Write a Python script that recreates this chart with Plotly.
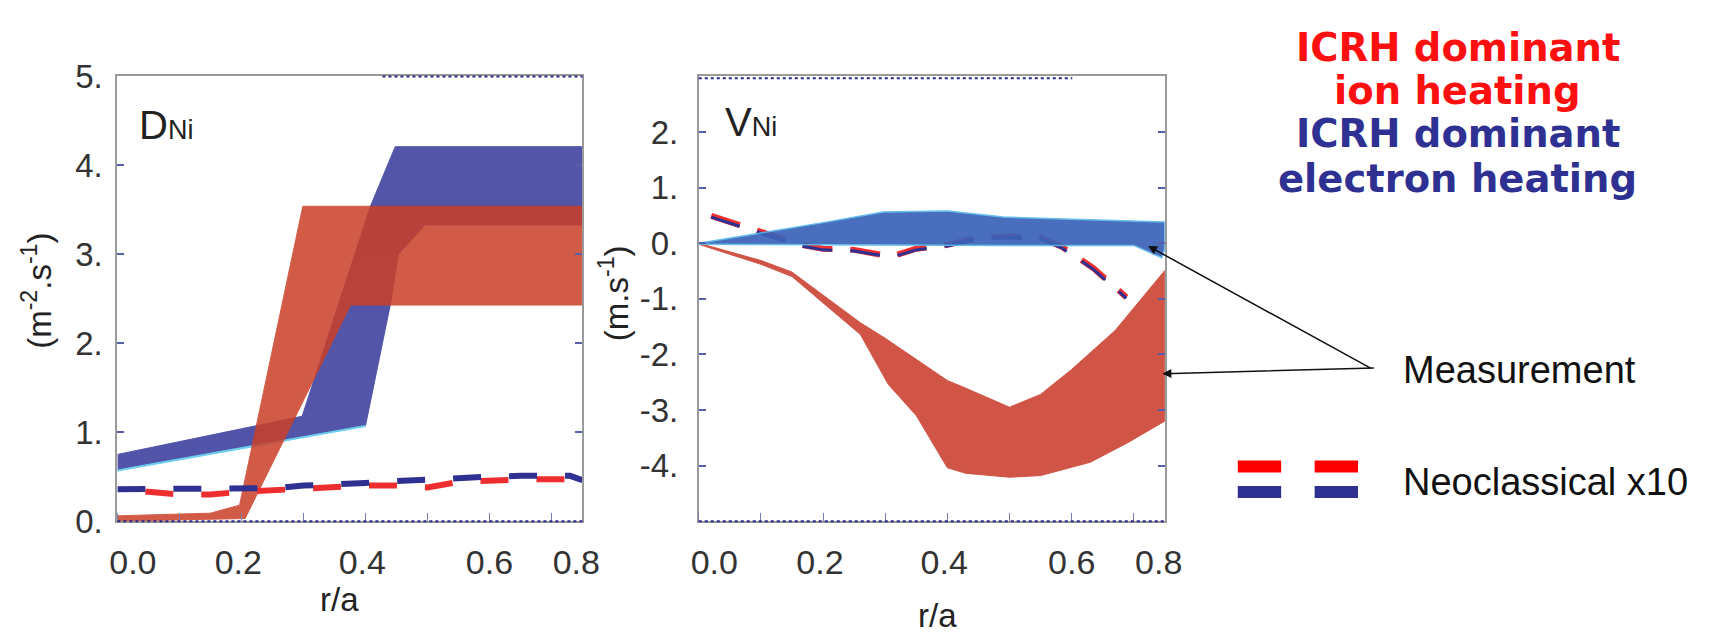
import plotly.graph_objects as go

W, H = 1713, 641

# ---------------- data: D_Ni panel ----------------
d_blue_upper_x = [0.0, 0.298, 0.408, 0.448, 0.75]
d_blue_upper_y = [0.75, 1.18, 3.54, 4.21, 4.21]
d_blue_lower_x = [0.0, 0.40, 0.44, 0.453, 0.496, 0.75]
d_blue_lower_y = [0.57, 1.07, 2.43, 3.0, 3.33, 3.33]

d_red_upper_x = [0.0, 0.15, 0.197, 0.299, 0.75]
d_red_upper_y = [0.06, 0.09, 0.18, 3.54, 3.54]
d_red_lower_x = [0.0, 0.206, 0.376, 0.75]
d_red_lower_y = [0.0, 0.03, 2.43, 2.43]

d_neo_x = [0.0, 0.05, 0.1, 0.15, 0.2, 0.25, 0.3, 0.35, 0.4, 0.45, 0.5, 0.55, 0.6, 0.65, 0.7, 0.73, 0.75]
d_neo_blue = [0.36, 0.36, 0.36, 0.36, 0.36, 0.37, 0.40, 0.41, 0.43, 0.45, 0.47, 0.49, 0.50, 0.51, 0.51, 0.51, 0.46]
d_neo_red = [0.34, 0.33, 0.30, 0.30, 0.33, 0.35, 0.36, 0.38, 0.40, 0.40, 0.38, 0.44, 0.46, 0.47, 0.47, 0.47, 0.43]

# ---------------- data: V_Ni panel ----------------
v_blue_upper_x = [0.0, 0.1, 0.2, 0.297, 0.40, 0.49, 0.6, 0.75]
v_blue_upper_y = [0.0, 0.19, 0.37, 0.56, 0.58, 0.47, 0.43, 0.38]
v_blue_lower_x = [0.0, 0.3, 0.5, 0.70, 0.745, 0.75]
v_blue_lower_y = [-0.02, -0.04, -0.04, -0.04, -0.26, -0.1]

v_red_upper_x = [0.0, 0.1, 0.15, 0.26, 0.30, 0.40, 0.43, 0.50, 0.55, 0.60, 0.67, 0.75]
v_red_upper_y = [0.0, -0.31, -0.52, -1.43, -1.71, -2.47, -2.61, -2.95, -2.72, -2.27, -1.57, -0.49]
v_red_lower_x = [0.0, 0.1, 0.15, 0.26, 0.305, 0.35, 0.40, 0.43, 0.50, 0.55, 0.63, 0.69, 0.75]
v_red_lower_y = [-0.02, -0.38, -0.6, -1.64, -2.54, -3.1, -4.04, -4.14, -4.21, -4.18, -3.94, -3.59, -3.2]

v_neo_x = [0.02, 0.11, 0.165, 0.2, 0.25, 0.31, 0.35, 0.40, 0.45, 0.5, 0.55, 0.585, 0.635, 0.688]
v_neo_red = [0.49, 0.17, -0.03, -0.10, -0.12, -0.24, -0.10, -0.03, 0.10, 0.12, 0.10, -0.07, -0.45, -0.97]
v_neo_blue = [0.47, 0.15, -0.05, -0.12, -0.14, -0.25, -0.12, -0.05, 0.08, 0.10, 0.08, -0.09, -0.47, -0.99]

# ---------------- tick labels ----------------
x_tick_text = ["0.0", "0.2", "0.4", "0.6", "0.8"]
d_tick_vals = [0, 1, 2, 3, 4, 5]
d_tick_text = ["0.", "1.", "2.", "3.", "4.", "5."]
v_tick_vals = [-4, -3, -2, -1, 0, 1, 2]
v_tick_text = ["-4.", "-3.", "-2.", "-1.", "0.", "1.", "2."]

# colours
BLUE_L = "#5255A8"
RED_L = "#CB3F28"
BLUE_R = "#3A62B8"
RED_R = "#D05546"
DASH_RED = "#EE2E2E"
DASH_BLUE = "#2E3192"

def band(ux, uy, lx, ly):
    return list(lx) + list(ux[::-1]), list(ly) + list(uy[::-1])

fig = go.Figure()

# left panel bands
bx, by = band(d_blue_upper_x, d_blue_upper_y, d_blue_lower_x, d_blue_lower_y)
fig.add_trace(go.Scatter(x=bx, y=by, fill="toself", fillcolor=BLUE_L, mode="lines",
                         line=dict(color=BLUE_L, width=1), xaxis="x", yaxis="y", hoverinfo="skip"))
fig.add_trace(go.Scatter(x=d_blue_lower_x[:2], y=d_blue_lower_y[:2], mode="lines",
                         line=dict(color="#6FD0EE", width=2), xaxis="x", yaxis="y", hoverinfo="skip"))
rx, ry = band(d_red_upper_x, d_red_upper_y, d_red_lower_x, d_red_lower_y)
fig.add_trace(go.Scatter(x=rx, y=ry, fill="toself", fillcolor=RED_L, opacity=0.85, mode="lines",
                         line=dict(color=RED_L, width=1), xaxis="x", yaxis="y", hoverinfo="skip"))
# left neoclassical
fig.add_trace(go.Scatter(x=d_neo_x, y=d_neo_red, mode="lines",
                         line=dict(color=DASH_RED, width=6, dash="0px,28px,28px,0px"),
                         xaxis="x", yaxis="y", hoverinfo="skip"))
fig.add_trace(go.Scatter(x=d_neo_x, y=d_neo_blue, mode="lines",
                         line=dict(color=DASH_BLUE, width=6, dash="28px,28px"),
                         xaxis="x", yaxis="y", hoverinfo="skip"))

# right panel
rx, ry = band(v_red_upper_x, v_red_upper_y, v_red_lower_x, v_red_lower_y)
fig.add_trace(go.Scatter(x=rx, y=ry, fill="toself", fillcolor=RED_R, mode="lines",
                         line=dict(color=RED_R, width=1), xaxis="x2", yaxis="y2", hoverinfo="skip"))
fig.add_trace(go.Scatter(x=v_neo_x, y=v_neo_red, mode="lines",
                         line=dict(color=DASH_RED, width=6, dash="30px,18px"),
                         xaxis="x2", yaxis="y2", hoverinfo="skip"))
fig.add_trace(go.Scatter(x=v_neo_x, y=v_neo_blue, mode="lines",
                         line=dict(color=DASH_BLUE, width=3, dash="30px,18px"),
                         xaxis="x2", yaxis="y2", hoverinfo="skip"))
bx, by = band(v_blue_upper_x, v_blue_upper_y, v_blue_lower_x, v_blue_lower_y)
fig.add_trace(go.Scatter(x=bx, y=by, fill="toself", fillcolor=BLUE_R, opacity=0.92, mode="lines",
                         line=dict(color="#58B8E8", width=1.5), xaxis="x2", yaxis="y2", hoverinfo="skip"))

# axes
y_dom = [1 - 534 / H, 1 - 62 / H]
xcommon = dict(range=[0, 0.75], tickvals=[0.025, 0.195, 0.395, 0.6, 0.74], ticktext=x_tick_text,
               ticks="", showgrid=False, zeroline=False, showline=True, linecolor="#9A9A9A",
               linewidth=2, mirror=True,
               tickfont=dict(family="Liberation Sans, Arial", size=34, color="#333333"),
               ticklabelstandoff=10,
               minor=dict(dtick=0.1, tick0=0, ticks="inside", ticklen=8, tickcolor="#7780B0",
                          tickwidth=1, showgrid=False))
ycommon = dict(showgrid=False, zeroline=False, showline=True, linecolor="#9A9A9A", linewidth=2,
               mirror="ticks", ticks="inside", ticklen=7, tickcolor="#5560A8", tickwidth=1.5,
               tickfont=dict(family="Liberation Sans, Arial", size=33, color="#333333"))

fig.update_layout(
    width=W, height=H, margin=dict(l=0, r=0, t=0, b=0),
    paper_bgcolor="white", plot_bgcolor="white", showlegend=False,
    xaxis=dict(domain=[111 / W, 583 / W], anchor="y", **xcommon),
    yaxis=dict(domain=y_dom, anchor="x", range=[0, 5], tickvals=d_tick_vals,
               ticktext=d_tick_text, ticklabelstandoff=6, **ycommon),
    xaxis2=dict(domain=[701 / W, 1174 / W], anchor="y2", **xcommon),
    yaxis2=dict(domain=y_dom, anchor="x2", range=[-5, 3], tickvals=v_tick_vals,
                ticktext=v_tick_text, ticklabelstandoff=12, **ycommon),
)

# dotted frame accents (bottom edges, top of right panel)
dotted = dict(color="#2A2A8A", width=2, dash="dot")
for x0, x1, yy in [(111, 583, 534), (701, 1174, 534), (701, 1080, 64), (380, 583, 62)]:
    fig.add_shape(type="line", xref="paper", yref="paper", x0=x0 / W, x1=x1 / W,
                  y0=1 - yy / H, y1=1 - yy / H, line=dotted)

def ann(text, x, y, size, color="#222222", family="Liberation Sans, Arial", xanchor="center",
        yanchor="middle", angle=0, bold=False):
    fig.add_annotation(text=text, x=x / W, y=1 - y / H, xref="paper", yref="paper",
                       showarrow=False, xanchor=xanchor, yanchor=yanchor, textangle=angle,
                       font=dict(size=size, color=color, family=family,
                                 weight="bold" if bold else "normal"))

# axis titles
ann("r/a", 336, 617, 33)
ann("r/a", 943, 634, 33)
ann("(m<sup>-2</sup>.s<sup>-1</sup>)", 30, 290, 33, angle=-90)
ann("(m.s<sup>-1</sup>)", 615, 292, 33, angle=-90)

# panel labels
ann("D<span style='font-size:27px'>Ni</span>", 131, 114, 40, xanchor="left")
ann("V<span style='font-size:27px'>Ni</span>", 726, 110, 40, xanchor="left")

# heating titles
TF = "DejaVu Sans, Verdana"
ann("ICRH dominant", 1471, 31, 38.5, color="#FF1010", family=TF, bold=True)
ann("ion heating", 1471, 77, 38.5, color="#FF1010", family=TF, bold=True)
ann("ICRH dominant", 1471, 123, 38.5, color="#2E3192", family=TF, bold=True)
ann("electron heating", 1471, 170, 38.5, color="#2E3192", family=TF, bold=True)

# side labels
ann("Measurement", 1414, 374, 38, color="#111111", xanchor="left")
ann("Neoclassical x10", 1414, 492, 38, color="#111111", xanchor="left")

# legend samples for neoclassical
for x0, x1 in [(1248, 1292), (1326, 1370)]:
    fig.add_shape(type="line", xref="paper", yref="paper", x0=x0 / W, x1=x1 / W,
                  y0=1 - 476 / H, y1=1 - 476 / H, line=dict(color="#FF0000", width=12))
    fig.add_shape(type="line", xref="paper", yref="paper", x0=x0 / W, x1=x1 / W,
                  y0=1 - 503 / H, y1=1 - 503 / H, line=dict(color="#2E3192", width=12))

# arrows pointing to measurements
fig.add_annotation(x=0.723, y=-0.05, xref="x2", yref="y2", text="", showarrow=True,
                   ax=224, ay=123, arrowhead=2, arrowsize=1.2, arrowwidth=1.5, arrowcolor="#111111")
fig.add_annotation(x=0.746, y=-2.35, xref="x2", yref="y2", text="", showarrow=True,
                   ax=213, ay=-6, arrowhead=2, arrowsize=1.2, arrowwidth=1.5, arrowcolor="#111111")

fig.write_html("out.html")
